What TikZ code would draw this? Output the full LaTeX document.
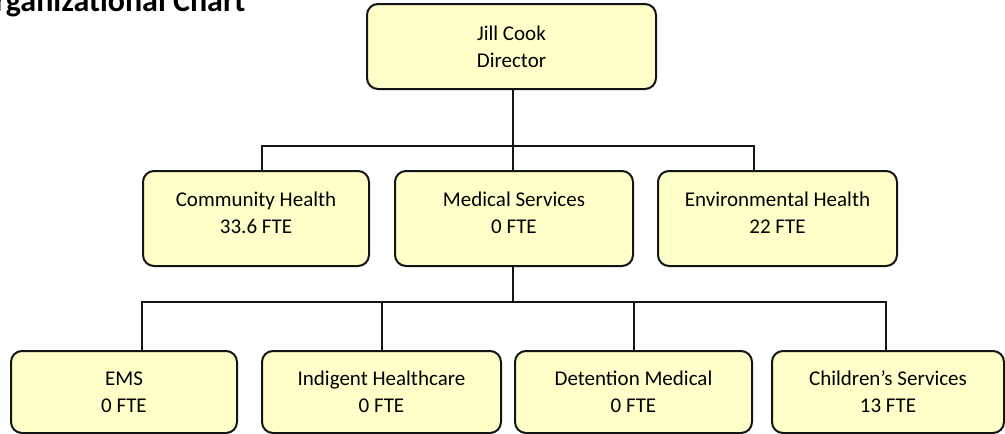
\documentclass[tikz,border=0pt]{standalone}
\usepackage{fontspec}
\setmainfont{Carlito}
\usetikzlibrary{positioning}
\definecolor{ocfill}{RGB}{255,255,202}
\definecolor{ocline}{RGB}{20,20,20}
\tikzset{
  unit/.style={draw=ocline, line width=2pt, rounded corners=11pt, fill=ocfill,
               font=\fontsize{21}{27}\selectfont, align=center, inner sep=0pt},
  toprow/.style={unit, minimum height=95pt, text depth=12pt},
  lowrow/.style={unit, minimum height=82pt},
  link/.style={draw=ocline, line width=1.8pt},
}

\begin{document}
\begin{tikzpicture}[x=1pt, y=-1pt]
\useasboundingbox (0,0) rectangle (1005,434);
\clip (0,0) rectangle (1005,434);

\node[font=\fontsize{32}{36}\selectfont\bfseries, anchor=base east] (title) at (249,11)
  {Organizational Chart};

% director
\node[unit, minimum width=289pt, minimum height=85pt] (dir) at (511.5,46.5)
  {Jill Cook\\Director};

% divisions
\node[toprow, minimum width=226pt] (comm) at (256,218.5) {Community Health\\33.6 FTE};
\node[toprow, minimum width=238pt] (med)  at (514,218.5) {Medical Services\\0 FTE};
\node[toprow, minimum width=239pt] (env)  at (777.5,218.5) {Environmental Health\\22 FTE};

% programs under medical services
\node[lowrow, minimum width=226pt] (ems) at (124,392)   {EMS\\0 FTE};
\node[lowrow, minimum width=239pt] (ind) at (381.5,392) {Indigent Healthcare\\0 FTE};
\node[lowrow, minimum width=237pt] (det) at (633.5,392) {Detention Medical\\0 FTE};
\node[lowrow, minimum width=232pt] (chi) at (888,392)   {Children’s Services\\13 FTE};

% buses
\coordinate (busa) at (0,146);
\coordinate (busb) at (0,302);

\draw[link] ([xshift=1.5pt]dir.south) -- ([xshift=-1pt]med.north);
\draw[link] ([xshift=6pt]comm.north) |- ([xshift=-23.5pt]env.north |- busa)
  -- ([xshift=-23.5pt]env.north);

\draw[link] ([xshift=-1pt]med.south) -- ([xshift=-1pt]med.south |- busb);
\draw[link] ([xshift=18pt]ems.north) |- ([xshift=-2pt]chi.north |- busb)
  -- ([xshift=-2pt]chi.north);
\draw[link] ([xshift=0.5pt]ind.north) -- ([xshift=0.5pt]ind.north |- busb);
\draw[link] ([xshift=0.5pt]det.north) -- ([xshift=0.5pt]det.north |- busb);
\end{tikzpicture}
\end{document}
